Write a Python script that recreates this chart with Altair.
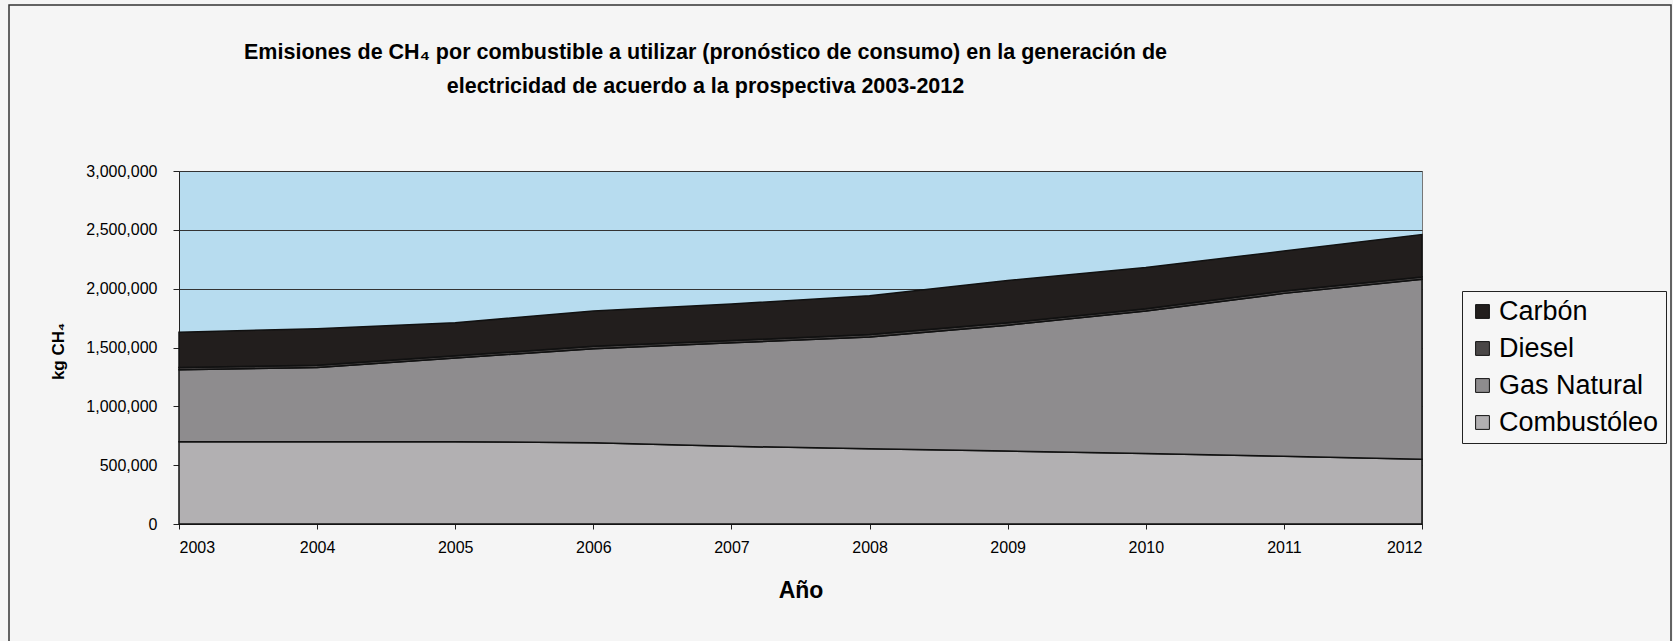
import altair as alt
import pandas as pd

# ---- data ----
years = [2003, 2004, 2005, 2006, 2007, 2008, 2009, 2010, 2011, 2012]
combustoleo = [700000, 700000, 700000, 690000, 660000, 640000, 620000, 600000, 575000, 550000]
gas_natural = [610000, 630000, 710000, 800000, 880000, 950000, 1070000, 1210000, 1385000, 1530000]
diesel = [20000, 20000, 20000, 20000, 20000, 20000, 20000, 20000, 20000, 20000]
carbon = [300000, 310000, 280000, 300000, 310000, 330000, 360000, 350000, 340000, 360000]

series_names = ["Carbón", "Diesel", "Gas Natural", "Combustóleo"]
series_colors = ["#221e1d", "#4a4747", "#8e8c8e", "#b2b0b2"]
y_ticks = [0, 500000, 1000000, 1500000, 2000000, 2500000, 3000000]

title_lines = [
    "Emisiones de CH₄ por combustible a utilizar (pronóstico de consumo) en la generación de",
    "electricidad de acuerdo a la prospectiva 2003-2012",
]

rows = []
for name, vals, order in [("Combustóleo", combustoleo, 0), ("Gas Natural", gas_natural, 1),
                          ("Diesel", diesel, 2), ("Carbón", carbon, 3)]:
    for yr, v in zip(years, vals):
        rows.append({"anio": yr, "kg": v, "Combustible": name, "ord": order})
df = pd.DataFrame(rows)

FONT = "Liberation Sans"
W, H = 1243, 353
PL, PT = 179, 171

areas = alt.Chart(df).mark_area(stroke="#111111", strokeWidth=1.5, interpolate="linear", opacity=1).encode(
    x=alt.X("anio:Q", scale=alt.Scale(domain=[2003, 2012], nice=False, zero=False),
            axis=alt.Axis(values=years, format="d", title="Año", grid=False,
                          labelFontSize=16, labelFont=FONT, labelColor="black", labelPadding=10,
                          tickSize=5, tickColor="#222", domainColor="#222",
                          titleFontSize=23, titleFont=FONT, titleFontWeight="bold",
                          titleColor="black", titlePadding=24)),
    y=alt.Y("kg:Q", stack="zero", scale=alt.Scale(domain=[0, 3000000], nice=False),
            axis=alt.Axis(values=y_ticks, format=",d", title="kg CH₄", grid=True,
                          gridColor="#333333", gridWidth=1.2, labelFontSize=16, labelFont=FONT,
                          labelColor="black", labelPadding=16, tickSize=6, tickColor="#222",
                          domainColor="#222", titleFontSize=17, titleFont=FONT,
                          titleFontWeight="bold", titleColor="black",
                          titleX=-112, titleY=180)),
    color=alt.Color("Combustible:N",
                    scale=alt.Scale(domain=series_names, range=series_colors),
                    legend=alt.Legend(title=None, orient="none", legendX=1283, legendY=120,
                                      strokeColor="#222", fillColor="#f6f6f6", padding=7,
                                      labelFontSize=27, labelFont=FONT, labelColor="black",
                                      symbolType="square", symbolSize=190,
                                      symbolStrokeColor="#111", symbolStrokeWidth=1,
                                      rowPadding=9, labelOffset=3, symbolOpacity=1)),
    order=alt.Order("ord:Q", sort="ascending"),
)

frame = alt.Chart(pd.DataFrame({"a": [0]})).mark_rect(fillOpacity=0, stroke="#333333", strokeWidth=1.5).encode(
    x=alt.value(-170), x2=alt.value(1492), y=alt.value(-166), y2=alt.value(480)
)

chart = alt.layer(frame, areas).properties(
    width=W, height=H,
    autosize=alt.AutoSizeParams(type="none"),
    padding={"left": PL, "top": PT, "right": 1673 - PL - W, "bottom": 641 - PT - H},
    background="#f5f5f5",
    title=alt.TitleParams(text=title_lines, fontSize=21.5, font=FONT, fontWeight="bold",
                          color="black", anchor="middle", dx=-95, offset=0, dy=93, lineHeight=34),
).configure_view(fill="#b7dcef", stroke="#777777", strokeWidth=1)

chart.save("out.html", embed_options={"renderer": "svg", "actions": False})
